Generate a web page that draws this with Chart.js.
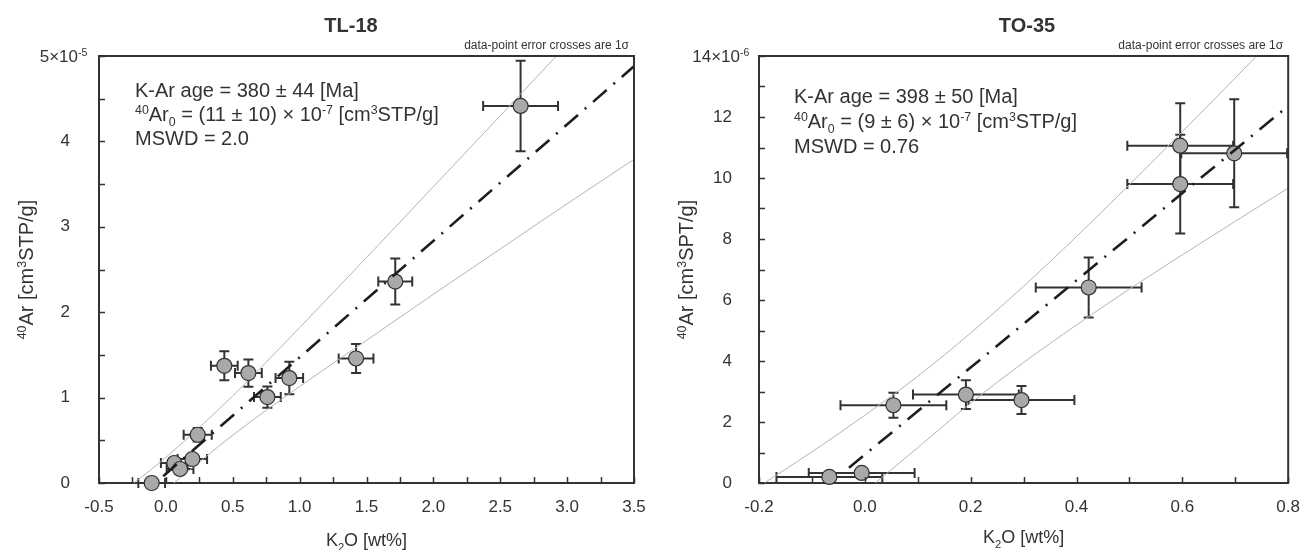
<!DOCTYPE html>
<html>
<head>
<meta charset="utf-8">
<script src="https://cdn.jsdelivr.net/npm/chart.js@4.4.0/dist/chart.umd.min.js"></script>
<style>
  body { margin: 0; background: #fff; }
  #wrap { position: relative; width: 1306px; height: 550px; }
  .box { position: absolute; top: 0; width: 653px; height: 550px; }
</style>
</head>
<body>
<div id="wrap">
  <div class="box" style="left:0"><canvas id="tl18" width="653" height="550"></canvas></div>
  <div class="box" style="left:653px"><canvas id="to35" width="653" height="550"></canvas></div>
</div>
<script>
// TL-18: K2O [wt%] vs 40Ar [1e-5 cm3STP/g]
const tlK2O    = [-0.106, 0.063, 0.106, 0.198, 0.238, 0.437, 0.617, 0.759, 0.923, 1.422, 1.715, 2.652];
const tlAr     = [0.0, 0.234, 0.164, 0.281, 0.565, 1.372, 1.287, 1.006, 1.229, 1.458, 2.359, 4.415];
const tlK2OErr = [0.10, 0.10, 0.10, 0.11, 0.105, 0.10, 0.10, 0.10, 0.103, 0.13, 0.127, 0.28];
const tlArErr  = [0.05, 0.05, 0.05, 0.06, 0.08, 0.17, 0.16, 0.125, 0.19, 0.17, 0.27, 0.53];
const tlFitX   = [-0.02, 3.5];
const tlFitY   = [0.08, 4.88];
const tlUpperX = [-0.24, 0.0, 0.5, 1.0, 1.5, 2.0, 2.5, 2.92];
const tlUpperY = [0.0, 0.30, 1.02, 1.82, 2.64, 3.47, 4.30, 5.0];
const tlLowerX = [0.06, 0.5, 1.0, 1.5, 2.0, 2.5, 3.0, 3.5];
const tlLowerY = [0.0, 0.56, 1.13, 1.67, 2.21, 2.74, 3.27, 3.79];

// TO-35: K2O [wt%] vs 40Ar [1e-6 cm3STP/g]
const toK2O    = [-0.067, -0.006, 0.054, 0.191, 0.296, 0.423, 0.596, 0.596, 0.698];
const toAr     = [0.20, 0.33, 2.55, 2.90, 2.72, 6.41, 9.80, 11.06, 10.81];
const toK2OErr = [0.10, 0.10, 0.10, 0.10, 0.10, 0.10, 0.10, 0.10, 0.10];
const toArErr  = [0.10, 0.10, 0.41, 0.47, 0.46, 0.98, 1.62, 1.39, 1.77];
const toFitX   = [-0.03, 0.8];
const toFitY   = [0.50, 12.36];
const toUpperX = [-0.19, -0.1, 0.0, 0.1, 0.2, 0.3, 0.4, 0.5, 0.6, 0.7, 0.74];
const toUpperY = [0.0, 1.02, 2.22, 3.50, 4.92, 6.45, 8.08, 9.78, 11.52, 13.28, 14.0];
const toLowerX = [0.02, 0.1, 0.2, 0.3, 0.4, 0.5, 0.6, 0.7, 0.8];
const toLowerY = [0.0, 1.16, 2.62, 3.95, 5.18, 6.36, 7.48, 8.58, 9.67];

const FONT = '"Liberation Sans", Arial, Helvetica, sans-serif';
const INK = '#333';

function pts(xs, ys) { return xs.map((v, i) => ({ x: v, y: ys[i] })); }

// text with small raised / lowered pieces
function richWidth(ctx, parts, size) {
  return parts.reduce((w, [t, k]) => {
    ctx.font = (k ? size * 0.62 : size) + 'px ' + FONT;
    return w + ctx.measureText(t).width;
  }, 0);
}
function drawRich(ctx, parts, x, y, size) {
  parts.forEach(([t, k]) => {
    const s = k ? size * 0.62 : size;
    ctx.font = s + 'px ' + FONT;
    const dy = k === 'sup' ? -size * 0.36 : k === 'sub' ? size * 0.26 : 0;
    ctx.fillText(t, x, y + dy);
    x += ctx.measureText(t).width;
  });
}

const decor = {
  id: 'decor',
  beforeDatasetsDraw(chart, args, o) {
    const { ctx, scales: { x, y } } = chart;
    ctx.save();
    ctx.strokeStyle = INK;
    ctx.lineWidth = o.barWidth;
    o.xs.forEach((v, i) => {
      const px = x.getPixelForValue(v), py = y.getPixelForValue(o.ys[i]);
      const x1 = x.getPixelForValue(v - o.xErr[i]), x2 = x.getPixelForValue(v + o.xErr[i]);
      const y1 = y.getPixelForValue(o.ys[i] - o.yErr[i]), y2 = y.getPixelForValue(o.ys[i] + o.yErr[i]);
      const c = o.cap;
      ctx.beginPath();
      ctx.moveTo(x1, py); ctx.lineTo(x2, py);
      ctx.moveTo(x1, py - c); ctx.lineTo(x1, py + c);
      ctx.moveTo(x2, py - c); ctx.lineTo(x2, py + c);
      ctx.moveTo(px, y1); ctx.lineTo(px, y2);
      ctx.moveTo(px - c, y1); ctx.lineTo(px + c, y1);
      ctx.moveTo(px - c, y2); ctx.lineTo(px + c, y2);
      ctx.stroke();
    });
    ctx.restore();
  },
  afterDraw(chart, args, o) {
    const { ctx, chartArea: a, scales: { x, y } } = chart;
    ctx.save();
    // frame top/right
    ctx.strokeStyle = INK;
    ctx.lineWidth = 2;
    ctx.beginPath();
    ctx.moveTo(a.left, a.top); ctx.lineTo(a.right, a.top); ctx.lineTo(a.right, a.bottom);
    ctx.stroke();
    // inward ticks, major + minor
    ctx.lineWidth = 1.5;
    ctx.beginPath();
    for (let v = x.min; v <= x.max + 1e-9; v += o.xMinor) {
      const px = Math.round(x.getPixelForValue(v)) + 0.5;
      ctx.moveTo(px, a.bottom); ctx.lineTo(px, a.bottom - 6);
    }
    for (let v = y.min; v <= y.max + 1e-9; v += o.yMinor) {
      const py = Math.round(y.getPixelForValue(v)) + 0.5;
      ctx.moveTo(a.left, py); ctx.lineTo(a.left + 6, py);
    }
    ctx.stroke();
    ctx.fillStyle = INK;
    ctx.textBaseline = 'alphabetic';
    // title + note
    ctx.textAlign = 'center';
    ctx.font = 'bold 20px ' + FONT;
    ctx.fillText(o.title, o.titleX, 31.5);
    ctx.textAlign = 'right';
    ctx.font = '12px ' + FONT;
    ctx.fillText('data-point error crosses are 1σ', a.right - 5, 49);
    ctx.textAlign = 'left';
    // top y tick label with exponent
    const ty = y.getPixelForValue(y.max) + 6;
    ctx.font = '17px ' + FONT;
    const bw = ctx.measureText(o.yTop[0]).width;
    drawRich(ctx, [[o.yTop[0]], [o.yTop[1], 'sup']], a.left - o.yPad - bw, ty, 17);
    // axis titles
    const xw = richWidth(ctx, o.xTitle, 18);
    drawRich(ctx, o.xTitle, (a.left + a.right) / 2 - xw / 2, o.xTitleY, 18);
    const yw = richWidth(ctx, o.yTitle, 20);
    ctx.save();
    ctx.translate(o.yTitleX, (a.top + a.bottom) / 2);
    ctx.rotate(-Math.PI / 2);
    drawRich(ctx, o.yTitle, -yw / 2, 0, 20);
    ctx.restore();
    // result box text
    o.lines.forEach((parts, i) => drawRich(ctx, parts, o.textX, o.textY[i], 20));
    ctx.restore();
  }
};

function makeChart(id, cfg) {
  return new Chart(document.getElementById(id), {
    type: 'scatter',
    data: {
      datasets: [
        { data: pts(cfg.fitX, cfg.fitY), showLine: true, borderColor: '#1e1e1e', borderWidth: 2.6,
          borderDash: [18, 9, 2, 9], pointRadius: 0, order: 0 },
        { data: pts(cfg.xs, cfg.ys), pointRadius: cfg.r, backgroundColor: '#a9a9a9',
          borderColor: INK, borderWidth: 1.2, clip: false, order: 1 },
        { data: pts(cfg.upX, cfg.upY), showLine: true, borderColor: '#b4b4b4', borderWidth: 1,
          pointRadius: 0, cubicInterpolationMode: 'monotone', order: 2 },
        { data: pts(cfg.loX, cfg.loY), showLine: true, borderColor: '#b4b4b4', borderWidth: 1,
          pointRadius: 0, cubicInterpolationMode: 'monotone', order: 2 }
      ]
    },
    options: {
      responsive: false,
      animation: false,
      events: [],
      layout: { padding: { top: 56, right: cfg.padRight, left: 0, bottom: 0 } },
      plugins: {
        legend: { display: false },
        tooltip: { enabled: false },
        decor: {
          xs: cfg.xs, ys: cfg.ys, xErr: cfg.xErr, yErr: cfg.yErr, cap: 5, barWidth: cfg.barWidth,
          xMinor: cfg.xMinor, yMinor: cfg.yMinor, title: cfg.title, titleX: cfg.titleX,
          lines: cfg.lines, textX: cfg.textX, textY: cfg.textY,
          yTop: cfg.yTop, yPad: cfg.yPad,
          xTitle: [['K'], ['2', 'sub'], ['O [wt%]']], xTitleY: cfg.xTitleY,
          yTitle: cfg.yTitle, yTitleX: cfg.yTitleX
        }
      },
      scales: {
        x: {
          type: 'linear', min: cfg.xMin, max: cfg.xMax,
          grid: { display: false },
          border: { display: true, color: INK, width: 2 },
          ticks: { stepSize: cfg.xStep, padding: 6, color: INK, autoSkip: false, maxRotation: 0,
                   font: { size: 17, family: FONT },
                   callback: v => (Math.abs(v) < 1e-9 ? 0 : v).toFixed(1) },
          afterFit: s => { s.height = 67; }
        },
        y: {
          type: 'linear', min: 0, max: cfg.yMax,
          grid: { display: false },
          border: { display: true, color: INK, width: 2 },
          ticks: { stepSize: cfg.yStep, padding: cfg.yPad, color: INK, autoSkip: false,
                   font: { size: 17, family: FONT },
                   callback: v => v === cfg.yMax ? '' : v },
          afterFit: s => { s.width = cfg.yWidth; }
        }
      }
    },
    plugins: [decor]
  });
}

makeChart('tl18', {
  xs: tlK2O, ys: tlAr, xErr: tlK2OErr, yErr: tlArErr,
  fitX: tlFitX, fitY: tlFitY, upX: tlUpperX, upY: tlUpperY, loX: tlLowerX, loY: tlLowerY,
  r: 7.5, barWidth: 2, xMin: -0.5, xMax: 3.5, xStep: 0.5, xMinor: 0.25,
  yMax: 5, yStep: 1, yMinor: 0.5, yTop: ['5×10', '-5'], yPad: 21, yWidth: 99, padRight: 19,
  yTitle: [['40', 'sup'], ['Ar [cm'], ['3', 'sup'], ['STP/g]']], yTitleX: 33, xTitleY: 546,
  title: 'TL-18', titleX: 351,
  textX: 135, textY: [97, 121, 144.5],
  lines: [
    [['K-Ar age = 380 ± 44 [Ma]']],
    [['40', 'sup'], ['Ar'], ['0', 'sub'], [' = (11 ± 10) × 10'], ['-7', 'sup'], [' [cm'], ['3', 'sup'], ['STP/g]']],
    [['MSWD = 2.0']]
  ]
});

makeChart('to35', {
  xs: toK2O, ys: toAr, xErr: toK2OErr, yErr: toArErr,
  fitX: toFitX, fitY: toFitY, upX: toUpperX, upY: toUpperY, loX: toLowerX, loY: toLowerY,
  r: 7.5, barWidth: 2, xMin: -0.2, xMax: 0.8, xStep: 0.2, xMinor: 0.1,
  yMax: 14, yStep: 2, yMinor: 1, yTop: ['14×10', '-6'], yPad: 19, yWidth: 106, padRight: 14,
  yTitle: [['40', 'sup'], ['Ar [cm'], ['3', 'sup'], ['SPT/g]']], yTitleX: 40, xTitleY: 543,
  title: 'TO-35', titleX: 374,
  textX: 141, textY: [103, 128, 153],
  lines: [
    [['K-Ar age = 398 ± 50 [Ma]']],
    [['40', 'sup'], ['Ar'], ['0', 'sub'], [' = (9 ± 6) × 10'], ['-7', 'sup'], [' [cm'], ['3', 'sup'], ['STP/g]']],
    [['MSWD = 0.76']]
  ]
});
</script>
</body>
</html>
